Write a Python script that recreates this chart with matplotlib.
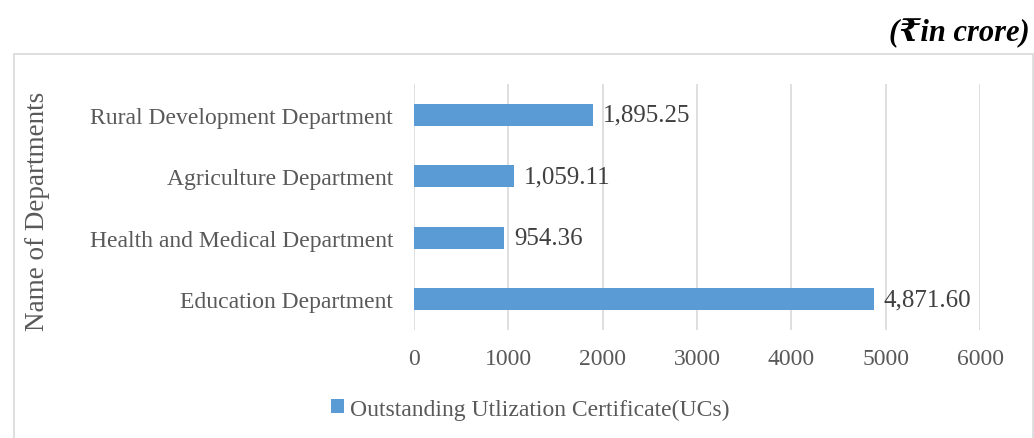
import matplotlib.pyplot as plt
from matplotlib.patches import Rectangle

# data (in crore)
departments = ["Education Department", "Health and Medical Department",
               "Agriculture Department", "Rural Development Department"]
outstanding = [4871.60, 954.36, 1059.11, 1895.25]
xticks = [0, 1000, 2000, 3000, 4000, 5000, 6000]

bar_color = "#5B9BD5"
text_grey = "#595959"
serif = ["Liberation Serif", "DejaVu Serif", "DejaVu Sans"]

plt.rcParams["font.family"] = serif

fig = plt.figure(figsize=(10.34, 4.39), dpi=100)
ax = fig.add_axes([0.4004, 0.246, 0.5474, 0.560])

# light frame around the chart area
fig.patches.append(Rectangle((14 / 1034, -0.01), 1019 / 1034, 1 - 55 / 439 + 0.01,
                             transform=fig.transFigure, fill=False,
                             edgecolor="#D9D9D9", linewidth=1.2))

ypos = list(range(len(departments)))
ax.barh(ypos, outstanding, height=0.36, color=bar_color,
        label="Outstanding Utlization Certificate(UCs)", zorder=3)

for y, v in zip(ypos, outstanding):
    ax.annotate(f"{v:,.2f}", (v, y), xytext=(7, 0), textcoords="offset points",
                va="center", ha="left", fontsize=18, color="#404040")

ax.set_xlim(0, 6000)
ax.set_ylim(-0.5, 3.5)
ax.set_xticks(xticks)
ax.set_xticklabels([str(t) for t in xticks])
ax.set_yticks(ypos)
ax.set_yticklabels(departments)
ax.tick_params(axis="both", length=0, labelsize=17, labelcolor=text_grey)
ax.tick_params(axis="x", pad=13)
ax.tick_params(axis="y", pad=15)
ax.grid(axis="x", color="#D9D9D9", linewidth=1.2, zorder=0)
for s in ax.spines.values():
    s.set_visible(False)

fig.text(38 / 1034, 1 - 211 / 439, "Name of Departments", rotation=90,
         ha="center", va="center", fontsize=19.5, color=text_grey)

fig.legend(loc="center", bbox_to_anchor=(530 / 1034, 1 - 410 / 439),
           frameon=False, fontsize=17, labelcolor=text_grey,
           handlelength=0.55, handleheight=0.55, handletextpad=0.25)

fig.text(1030 / 1034, 1 - 33 / 439, "(₹in crore)", ha="right", va="center",
         fontsize=22, fontweight="bold", fontstyle="italic", color="black")

fig.savefig("out.png", dpi=100)
